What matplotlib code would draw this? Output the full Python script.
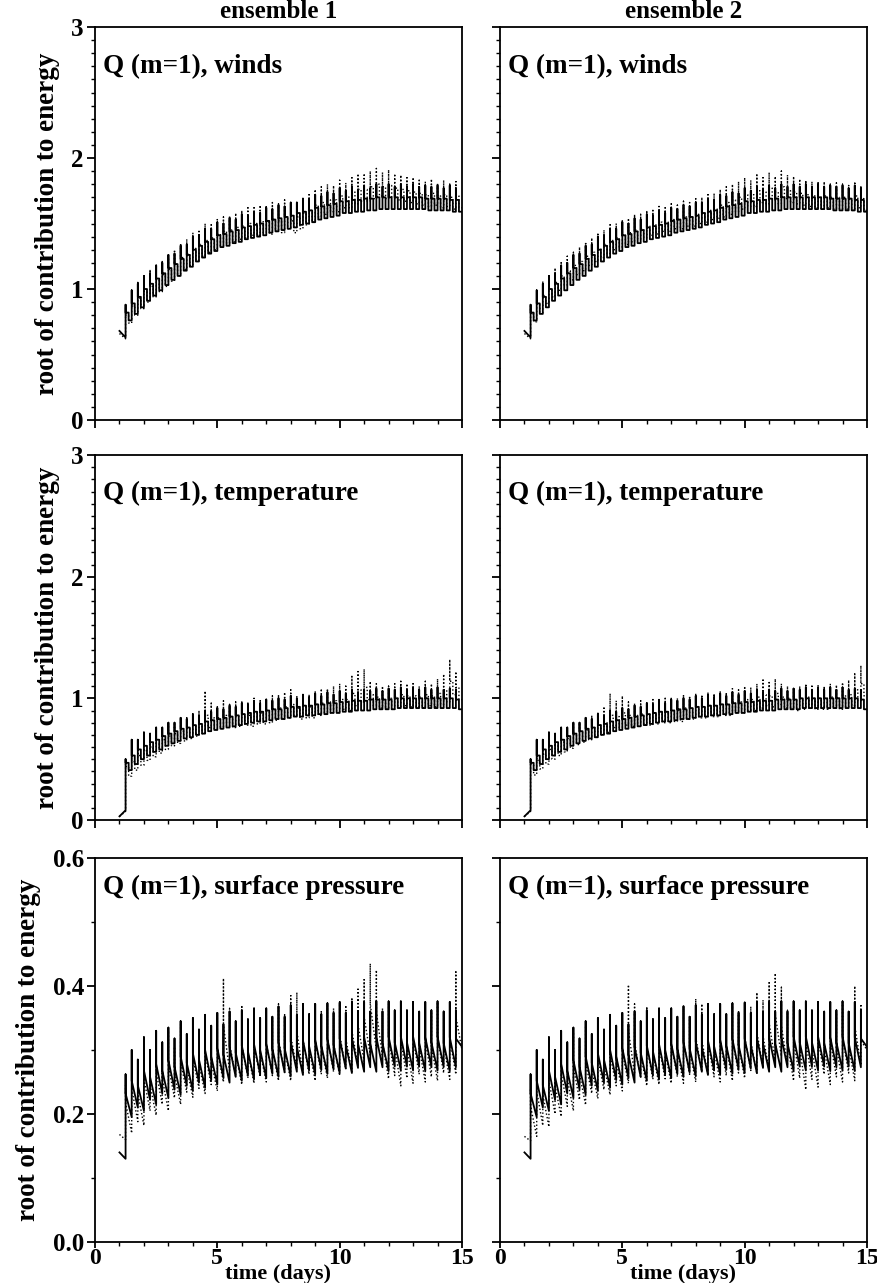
import numpy as np
import matplotlib
matplotlib.use('agg')
from matplotlib import pyplot as plt
from matplotlib.ticker import MultipleLocator, FormatStrFormatter

# analysis cycles every 6 hours from day 1 to day 14.75
cycle_days = np.arange(1.0, 15.0, 0.25)
dt = 0.25

# ---- winds (solid line is the same in both ensembles) ----
wind_solid_peak = [.68, .88, .99, 1.04, 1.10, 1.12, 1.18, 1.20,
                   1.26, 1.27, 1.33, 1.34, 1.40, 1.41, 1.46, 1.46,
                   1.51, 1.50, 1.54, 1.53, 1.57, 1.56, 1.59, 1.58,
                   1.62, 1.61, 1.64, 1.63, 1.66, 1.66, 1.69, 1.68,
                   1.72, 1.71, 1.74, 1.73, 1.77, 1.75, 1.78, 1.76,
                   1.79, 1.77, 1.80, 1.78, 1.80, 1.78, 1.80, 1.78,
                   1.80, 1.78, 1.79, 1.78, 1.79, 1.77, 1.79, 1.77]
wind_solid_up = [.68, .82, .89, .94, 1.00, 1.04, 1.08, 1.12,
                 1.16, 1.19, 1.23, 1.26, 1.30, 1.33, 1.36, 1.38,
                 1.41, 1.42, 1.44, 1.45, 1.47, 1.48, 1.49, 1.50,
                 1.52, 1.53, 1.54, 1.55, 1.56, 1.58, 1.59, 1.60,
                 1.62, 1.63, 1.64, 1.65, 1.67, 1.67, 1.68, 1.68,
                 1.69, 1.69, 1.70, 1.70, 1.70, 1.70, 1.70, 1.70,
                 1.70, 1.70, 1.69, 1.69, 1.69, 1.69, 1.68, 1.68]
wind_solid_lo = [.63, .76, .81, .86, .91, .95, .99, 1.03,
                 1.07, 1.10, 1.14, 1.17, 1.21, 1.24, 1.27, 1.29,
                 1.32, 1.33, 1.35, 1.36, 1.38, 1.39, 1.40, 1.41,
                 1.43, 1.44, 1.45, 1.46, 1.47, 1.49, 1.50, 1.51,
                 1.53, 1.54, 1.55, 1.56, 1.58, 1.58, 1.59, 1.59,
                 1.60, 1.60, 1.61, 1.61, 1.61, 1.61, 1.61, 1.61,
                 1.61, 1.61, 1.60, 1.60, 1.60, 1.60, 1.59, 1.59]

wind_e1_peak = [.66, .86, .97, 1.05, 1.08, 1.15, 1.17, 1.22,
                1.24, 1.30, 1.35, 1.38, 1.43, 1.44, 1.50, 1.49,
                1.53, 1.55, 1.56, 1.58, 1.60, 1.62, 1.62, 1.64,
                1.64, 1.66, 1.65, 1.68, 1.64, 1.66, 1.70, 1.72,
                1.76, 1.78, 1.80, 1.79, 1.83, 1.81, 1.85, 1.88,
                1.87, 1.90, 1.92, 1.89, 1.91, 1.88, 1.87, 1.85,
                1.84, 1.83, 1.82, 1.84, 1.81, 1.83, 1.80, 1.82]
wind_e1_up = [.66, .80, .87, .93, .98, 1.02, 1.07, 1.11,
              1.15, 1.19, 1.24, 1.27, 1.31, 1.34, 1.37, 1.39,
              1.42, 1.44, 1.45, 1.47, 1.48, 1.50, 1.50, 1.52,
              1.51, 1.53, 1.52, 1.55, 1.52, 1.55, 1.58, 1.60,
              1.64, 1.66, 1.68, 1.68, 1.71, 1.71, 1.74, 1.76,
              1.76, 1.78, 1.80, 1.78, 1.79, 1.77, 1.76, 1.75,
              1.74, 1.73, 1.72, 1.73, 1.71, 1.72, 1.70, 1.71]
wind_e1_lo = [.62, .74, .80, .85, .90, .94, .98, 1.02,
              1.06, 1.10, 1.15, 1.18, 1.22, 1.25, 1.28, 1.30,
              1.33, 1.35, 1.36, 1.38, 1.39, 1.41, 1.41, 1.43,
              1.42, 1.44, 1.43, 1.46, 1.43, 1.46, 1.49, 1.51,
              1.55, 1.57, 1.59, 1.59, 1.62, 1.62, 1.65, 1.67,
              1.67, 1.69, 1.71, 1.69, 1.70, 1.68, 1.67, 1.66,
              1.65, 1.64, 1.63, 1.64, 1.62, 1.63, 1.61, 1.62]

wind_e2_peak = [.66, .87, .98, 1.06, 1.10, 1.16, 1.20, 1.25,
                1.28, 1.32, 1.36, 1.39, 1.43, 1.45, 1.49, 1.50,
                1.53, 1.54, 1.57, 1.57, 1.60, 1.60, 1.63, 1.62,
                1.65, 1.64, 1.67, 1.66, 1.69, 1.70, 1.72, 1.73,
                1.76, 1.78, 1.80, 1.82, 1.85, 1.83, 1.87, 1.85,
                1.89, 1.86, 1.90, 1.87, 1.86, 1.84, 1.83, 1.82,
                1.81, 1.82, 1.80, 1.81, 1.80, 1.79, 1.82, 1.79]
wind_e2_up = [.66, .81, .88, .95, 1.00, 1.05, 1.10, 1.14,
              1.18, 1.21, 1.25, 1.28, 1.31, 1.34, 1.37, 1.39,
              1.41, 1.43, 1.45, 1.46, 1.48, 1.49, 1.51, 1.51,
              1.53, 1.53, 1.55, 1.55, 1.57, 1.58, 1.60, 1.61,
              1.64, 1.66, 1.68, 1.70, 1.72, 1.72, 1.75, 1.74,
              1.77, 1.74, 1.78, 1.75, 1.74, 1.73, 1.72, 1.71,
              1.70, 1.71, 1.70, 1.70, 1.70, 1.69, 1.71, 1.69]
wind_e2_lo = [.62, .75, .82, .89, .94, .99, 1.03, 1.07,
              1.11, 1.14, 1.18, 1.21, 1.24, 1.27, 1.30, 1.32,
              1.34, 1.36, 1.38, 1.39, 1.41, 1.42, 1.44, 1.44,
              1.46, 1.46, 1.48, 1.48, 1.50, 1.51, 1.53, 1.54,
              1.55, 1.57, 1.59, 1.61, 1.63, 1.63, 1.66, 1.65,
              1.68, 1.65, 1.69, 1.66, 1.65, 1.64, 1.63, 1.62,
              1.61, 1.62, 1.61, 1.61, 1.61, 1.60, 1.62, 1.60]

# ---- temperature ----
temp_solid_peak = [.03, .50, .66, .66, .72, .71, .76, .76,
                   .80, .80, .84, .83, .87, .86, .90, .89,
                   .92, .91, .94, .93, .96, .95, .98, .96,
                   .99, .98, 1.00, .99, 1.02, 1.00, 1.03, 1.01,
                   1.04, 1.02, 1.05, 1.03, 1.06, 1.04, 1.07, 1.05,
                   1.07, 1.06, 1.08, 1.06, 1.08, 1.07, 1.09, 1.07,
                   1.09, 1.07, 1.09, 1.07, 1.09, 1.07, 1.08, 1.07]
temp_solid_up = [.03, .47, .53, .58, .61, .64, .66, .69,
                 .71, .73, .75, .76, .78, .79, .81, .82,
                 .83, .84, .85, .86, .87, .88, .89, .89,
                 .90, .91, .91, .92, .93, .93, .94, .94,
                 .95, .95, .96, .96, .97, .97, .98, .98,
                 .98, .99, .99, .99, .99, 1.00, 1.00, 1.00,
                 1.00, 1.00, 1.00, 1.00, 1.00, 1.00, 1.00, .99]
temp_solid_lo = [.08, .41, .46, .50, .53, .56, .58, .61,
                 .63, .65, .67, .68, .70, .71, .73, .74,
                 .75, .76, .77, .78, .79, .80, .81, .81,
                 .82, .83, .83, .84, .85, .85, .86, .86,
                 .87, .87, .88, .88, .89, .89, .90, .90,
                 .90, .91, .91, .91, .91, .92, .92, .92,
                 .92, .92, .92, .92, .92, .92, .92, .91]

temp_e1_peak = [.03, .46, .60, .62, .68, .68, .72, .74,
                .78, .79, .83, .84, .88, .90, 1.06, .96,
                .94, .98, .95, .97, .98, .96, 1.00, .98,
                1.00, 1.02, 1.03, 1.05, 1.07, 1.02, 1.04, 1.03,
                1.06, 1.08, 1.08, 1.10, 1.12, 1.10, 1.18, 1.22,
                1.24, 1.14, 1.12, 1.10, 1.10, 1.12, 1.14, 1.12,
                1.12, 1.10, 1.14, 1.12, 1.16, 1.20, 1.32, 1.22]
temp_e1_up = [.03, .44, .48, .53, .57, .60, .63, .66,
              .69, .71, .73, .75, .77, .79, .86, .84,
              .84, .86, .85, .86, .87, .86, .88, .88,
              .89, .91, .92, .93, .95, .92, .93, .93,
              .95, .96, .97, .98, 1.00, .99, 1.04, 1.07,
              1.09, 1.03, 1.01, 1.00, 1.00, 1.01, 1.03, 1.02,
              1.02, 1.01, 1.03, 1.02, 1.04, 1.07, 1.14, 1.09]
temp_e1_lo = [.07, .36, .41, .45, .49, .52, .55, .58,
              .61, .63, .65, .67, .69, .71, .76, .75,
              .75, .77, .76, .77, .78, .77, .79, .79,
              .80, .82, .83, .84, .86, .83, .84, .84,
              .86, .87, .88, .89, .91, .90, .94, .97,
              .99, .94, .92, .91, .91, .92, .94, .93,
              .93, .92, .94, .93, .95, .97, 1.03, .99]

temp_e2_peak = [.03, .47, .61, .63, .69, .69, .73, .75,
                .79, .80, .84, .86, .89, .92, 1.04, .98,
                1.02, .97, .96, .98, .97, .99, .99, 1.00,
                1.01, 1.00, 1.03, 1.02, 1.04, 1.03, 1.05, 1.04,
                1.06, 1.05, 1.08, 1.07, 1.10, 1.09, 1.12, 1.15,
                1.13, 1.16, 1.12, 1.10, 1.09, 1.10, 1.12, 1.10,
                1.11, 1.10, 1.12, 1.11, 1.13, 1.15, 1.20, 1.27]
temp_e2_up = [.03, .45, .49, .54, .58, .61, .64, .67,
              .70, .72, .74, .76, .78, .80, .86, .85,
              .88, .86, .86, .87, .87, .88, .89, .89,
              .90, .90, .92, .92, .93, .93, .94, .94,
              .95, .95, .97, .97, .99, .99, 1.01, 1.03,
              1.02, 1.04, 1.01, 1.00, .99, 1.00, 1.01, 1.00,
              1.00, 1.00, 1.01, 1.00, 1.02, 1.03, 1.07, 1.12]
temp_e2_lo = [.07, .37, .42, .46, .50, .53, .56, .59,
              .62, .64, .66, .68, .70, .72, .76, .76,
              .78, .77, .77, .78, .78, .79, .80, .80,
              .81, .81, .83, .83, .84, .84, .85, .85,
              .86, .86, .88, .88, .90, .90, .92, .94,
              .93, .95, .92, .91, .90, .91, .92, .91,
              .91, .91, .92, .91, .93, .94, .98, 1.02]

# ---- surface pressure ----
ps_solid_peak = [.140, .262, .300, .285, .320, .300, .330, .312,
                 .335, .318, .345, .325, .350, .332, .355, .338,
                 .358, .340, .360, .345, .362, .348, .365, .350,
                 .365, .352, .368, .352, .370, .355, .372, .356,
                 .372, .356, .373, .358, .374, .358, .375, .360,
                 .375, .360, .376, .360, .376, .362, .376, .362,
                 .375, .360, .375, .362, .376, .360, .375, .362]
ps_solid_up = [.140, .232, .252, .245, .268, .258, .278, .268,
               .284, .274, .290, .280, .295, .285, .300, .290,
               .303, .293, .305, .296, .307, .298, .309, .300,
               .310, .302, .312, .303, .313, .305, .315, .306,
               .316, .307, .317, .308, .318, .308, .319, .310,
               .320, .310, .320, .311, .321, .312, .321, .312,
               .321, .311, .320, .312, .321, .311, .320, .318]
ps_solid_lo = [.130, .195, .210, .205, .222, .215, .232, .225,
               .238, .230, .244, .236, .249, .241, .253, .246,
               .256, .249, .258, .252, .260, .254, .262, .256,
               .263, .258, .265, .259, .266, .261, .268, .262,
               .269, .263, .270, .264, .271, .264, .272, .266,
               .273, .266, .273, .267, .274, .268, .274, .268,
               .274, .267, .273, .268, .274, .267, .273, .305]

ps_e1_peak = [.168, .245, .290, .270, .310, .290, .322, .300,
              .330, .305, .340, .318, .348, .325, .352, .330,
              .355, .412, .365, .345, .370, .350, .362, .348,
              .365, .350, .372, .355, .385, .390, .372, .355,
              .370, .360, .372, .365, .378, .370, .382, .395,
              .410, .435, .425, .365, .372, .358, .370, .355,
              .372, .358, .370, .360, .375, .362, .372, .422]
ps_e1_up = [.168, .218, .240, .232, .255, .245, .266, .255,
            .275, .262, .282, .272, .288, .278, .294, .282,
            .298, .338, .310, .294, .308, .296, .306, .296,
            .310, .300, .316, .302, .322, .330, .316, .302,
            .315, .306, .318, .310, .324, .318, .330, .340,
            .352, .372, .360, .312, .318, .304, .315, .302,
            .318, .304, .315, .306, .320, .308, .318, .352]
ps_e1_lo = [.160, .170, .188, .182, .205, .198, .215, .205,
            .225, .215, .234, .226, .240, .232, .246, .236,
            .250, .268, .258, .246, .256, .248, .258, .250,
            .260, .252, .265, .252, .270, .262, .262, .252,
            .262, .256, .266, .260, .270, .266, .275, .282,
            .292, .300, .290, .255, .260, .244, .256, .248,
            .262, .250, .258, .252, .264, .254, .262, .300]

ps_e2_peak = [.165, .240, .285, .268, .305, .288, .318, .300,
              .328, .305, .338, .316, .345, .322, .350, .330,
              .355, .402, .372, .342, .368, .350, .362, .348,
              .365, .348, .370, .352, .380, .372, .368, .352,
              .368, .358, .372, .362, .376, .368, .390, .378,
              .405, .420, .398, .362, .370, .356, .368, .355,
              .372, .356, .370, .358, .375, .360, .400, .372]
ps_e2_up = [.165, .212, .236, .230, .252, .244, .264, .255,
            .274, .262, .281, .270, .287, .276, .292, .282,
            .297, .330, .312, .292, .306, .295, .305, .296,
            .309, .298, .314, .300, .320, .316, .312, .300,
            .312, .304, .316, .308, .320, .314, .328, .322,
            .342, .356, .338, .310, .315, .302, .313, .301,
            .317, .302, .314, .304, .320, .306, .338, .315]
ps_e2_lo = [.158, .165, .182, .180, .200, .196, .212, .205,
            .222, .214, .232, .224, .238, .230, .244, .236,
            .248, .262, .256, .244, .254, .246, .255, .248,
            .258, .248, .262, .250, .266, .260, .258, .250,
            .260, .252, .264, .256, .268, .262, .272, .268,
            .282, .290, .276, .252, .256, .238, .254, .242,
            .262, .246, .258, .250, .264, .252, .276, .300]

column_titles = ['ensemble 1', 'ensemble 2']
panel_labels = ['Q (m=1), winds', 'Q (m=1), temperature', 'Q (m=1), surface pressure']
ylabel = 'root of contribution to energy'
xlabel = 'time (days)'


def sawtooth(peak, up, lo, stepped):
    """Build the path: jump at each analysis, then decay until the next one."""
    xs, ys = [], []
    for k, t in enumerate(cycle_days):
        if k == 0:
            xs.append(t)
            ys.append(up[k])
        else:
            xs += [t, t]
            ys += [peak[k], up[k]]
        if stepped and k > 0:
            xs += [t + dt / 2, t + dt / 2, t + dt]
            ys += [up[k], lo[k], lo[k]]
        else:
            xs.append(t + dt)
            ys.append(lo[k])
    return xs, ys


rows = [
    dict(solid=(wind_solid_peak, wind_solid_up, wind_solid_lo),
         dotted=[(wind_e1_peak, wind_e1_up, wind_e1_lo), (wind_e2_peak, wind_e2_up, wind_e2_lo)],
         ylim=(0, 3), major=1, minor=0.1, fmt='%d', stepped=True, label_y=40),
    dict(solid=(temp_solid_peak, temp_solid_up, temp_solid_lo),
         dotted=[(temp_e1_peak, temp_e1_up, temp_e1_lo), (temp_e2_peak, temp_e2_up, temp_e2_lo)],
         ylim=(0, 3), major=1, minor=0.1, fmt='%d', stepped=True, label_y=38),
    dict(solid=(ps_solid_peak, ps_solid_up, ps_solid_lo),
         dotted=[(ps_e1_peak, ps_e1_up, ps_e1_lo), (ps_e2_peak, ps_e2_up, ps_e2_lo)],
         ylim=(0, 0.6), major=0.2, minor=0.1, fmt='%.1f', stepped=False, label_y=29),
]

W, H = 878, 1283
fig = plt.figure(figsize=(W / 100, H / 100), dpi=100)
plt.rcParams['font.family'] = ['Liberation Serif', 'DejaVu Serif']
plt.rcParams['font.weight'] = 'bold'

col_left = [95, 500]
col_w = 367
row_box = [(27, 420), (455, 820), (858, 1242)]

for r, row in enumerate(rows):
    top, bot = row_box[r]
    for c in range(2):
        ax = fig.add_axes([col_left[c] / W, 1 - bot / H, col_w / W, (bot - top) / H])
        xs, ys = sawtooth(*row['dotted'][c], row['stepped'])
        ax.plot(xs, ys, color='black', lw=1.0, ls=(0, (1, 1.6)))
        xs, ys = sawtooth(*row['solid'], row['stepped'])
        ax.plot(xs, ys, color='black', lw=1.3)

        ax.set_xlim(0, 15)
        ax.set_ylim(*row['ylim'])
        ax.xaxis.set_major_locator(MultipleLocator(5))
        ax.xaxis.set_minor_locator(MultipleLocator(1))
        ax.yaxis.set_major_locator(MultipleLocator(row['major']))
        ax.yaxis.set_minor_locator(MultipleLocator(row['minor']))
        ax.yaxis.set_major_formatter(FormatStrFormatter(row['fmt']))
        ax.tick_params(which='major', direction='out', length=6, width=1.3,
                       labelsize=18, pad=2)
        ax.tick_params(which='minor', direction='out', length=3, width=1.0)
        for s in ax.spines.values():
            s.set_linewidth(1.3)

        if c == 1:
            ax.tick_params(axis='y', labelleft=False)
        else:
            ax.set_ylabel(ylabel, fontsize=19.5, fontweight='bold', labelpad=8)
        if r < 2:
            ax.tick_params(axis='x', labelbottom=False)
        else:
            ax.tick_params(axis='x', which='major', length=4, pad=0, labelsize=17)
            fig.text((col_left[c] + col_w / 2) / W, 1 - 1274 / H, xlabel,
                     fontsize=16, fontweight='bold', ha='center', va='center')

        ax.text(8 / col_w, 1 - row['label_y'] / (bot - top), panel_labels[r],
                transform=ax.transAxes, fontsize=19.5, fontweight='bold',
                va='center', ha='left')
        if r == 0:
            fig.text((col_left[c] + col_w / 2) / W, 1 - 11 / H, column_titles[c],
                     fontsize=18, fontweight='bold', ha='center', va='center')

fig.savefig('out.png', dpi=100)
